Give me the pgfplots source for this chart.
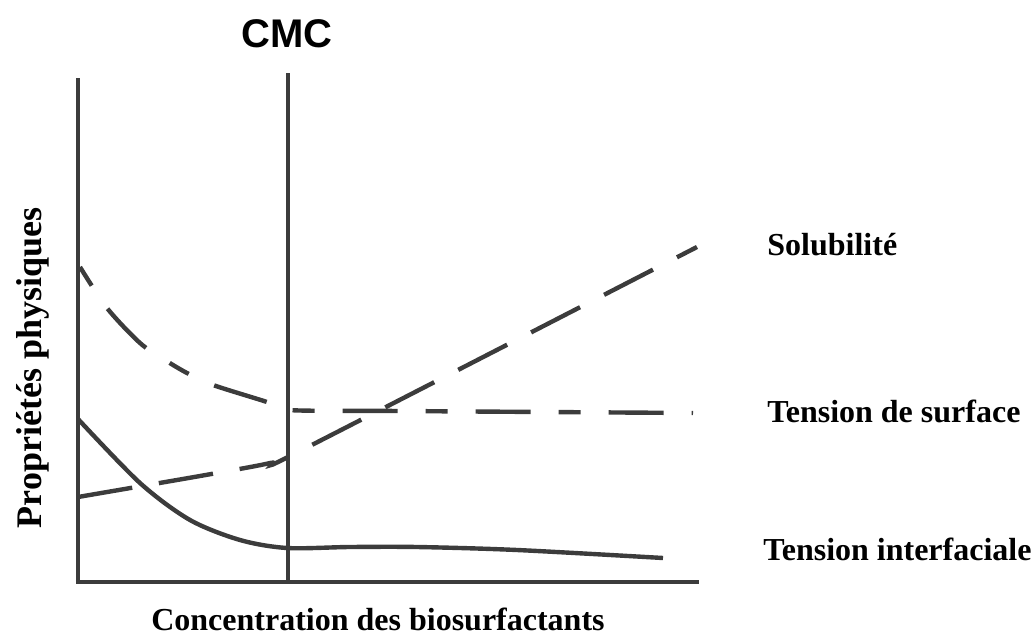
\documentclass[border=0pt]{standalone}
\usepackage{fontspec}
\setmainfont{Liberation Serif}
\newfontfamily\arialfont{Liberation Sans}
\usepackage{pgfplots}
\pgfplotsset{compat=1.18}
\definecolor{ln}{HTML}{3c3c3c}
\begin{document}
\begin{tikzpicture}
\path[use as bounding box] (-39pt,-26pt) rectangle (478.5pt,291pt);
\begin{axis}[
  at={(0,0)}, anchor=south west,
  scale only axis, width=309.5pt, height=254.5pt,
  xmin=78, xmax=697, ymin=0, ymax=509,
  axis lines=none, clip=false,
  every axis plot/.append style={line width=2.2pt, color=ln, no markers},
]
% axes and CMC line
\addplot[line cap=butt] coordinates {(78,0) (78,504)};
\addplot[line cap=butt] coordinates {(76,0) (699,0)};
\addplot[line cap=butt] coordinates {(288,0) (288,509)};
% Tension interfaciale (solid)
\addplot[smooth, tension=0.5] coordinates {
 (78,163) (140,99) (190,62) (240,42) (287,34) (350,35) (417,35) (517,32) (663,24)};
% Tension de surface (dashed)
\addplot[smooth, tension=0.5, dash pattern=on 11pt off 14pt on 27.5pt off 14pt] coordinates {
 (80,315) (107,274) (140,239) (165,222) (187,209) (213,197) (267,180) (288,172) (400,171) (693,169)};
% Solubilite (dashed)
\addplot[smooth, tension=0.4, dash pattern=on 27.5pt off 13.5pt] coordinates {
 (78,85) (200,106) (270,119) (300,131) (697,335)};
% labels
\node[font=\arialfont\bfseries\fontsize{20}{22}\selectfont] at (axis cs:287,548) {CMC};
\node[anchor=base west, inner sep=0pt, font=\bfseries\fontsize{16}{18}\selectfont] at (axis cs:767,327) {Solubilité};
\node[anchor=base west, inner sep=0pt, font=\bfseries\fontsize{16}{18}\selectfont] at (axis cs:767,160) {Tension de surface};
\node[anchor=base west, inner sep=0pt, font=\bfseries\fontsize{16}{18}\selectfont] at (axis cs:763,22) {Tension interfaciale};
\node[anchor=base, inner sep=0pt, font=\bfseries\fontsize{16}{18}\selectfont] at (axis cs:378,-48) {Concentration des biosurfactants};
\node[rotate=90, inner sep=0pt, font=\bfseries\fontsize{18}{20}\selectfont] at (axis cs:33,214) {Propriétés physiques};
\end{axis}
\end{tikzpicture}
\end{document}
